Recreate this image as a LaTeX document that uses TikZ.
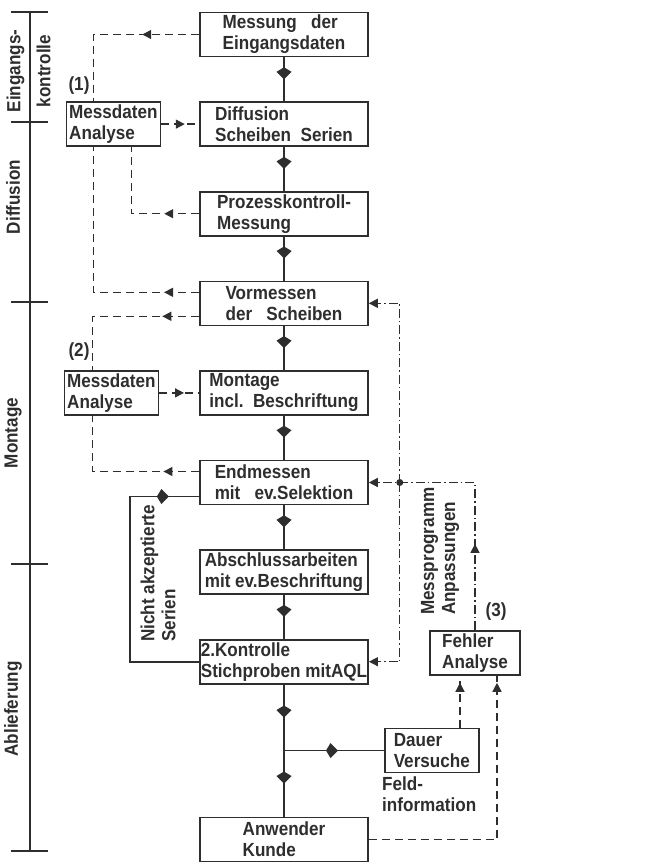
\documentclass[tikz,border=0pt]{standalone}
\usepackage{fontspec}
\setmainfont{Liberation Sans}[FakeStretch=0.9]
\usetikzlibrary{arrows.meta,positioning,decorations.markings,calc}
\definecolor{Ink}{HTML}{2E2E2E}
\tikzset{
 txt/.style={font=\fontsize{19}{21}\selectfont\bfseries,text=Ink},
 stage/.style={txt,draw=Ink,line width=1.6pt,minimum width=168pt,minimum height=44pt,
   align=left,inner xsep=1pt,inner ysep=1pt},
 side/.style={stage,minimum width=94pt},
 lbl/.style={txt,align=left,inner sep=0pt},
 midk/.style={decoration={markings,mark=at position #1 with {\arrow{Kite[length=12pt,width=15pt,inset=4.5pt]}}},postaction={decorate}},
 mid/.style={decoration={markings,mark=at position #1 with {\arrow{Triangle[length=9pt,width=9pt]}}},postaction={decorate}},
 flow/.style={draw=Ink,line width=1.8pt,midk=#1},
 flow/.default=0.5,
 fback/.style={draw=Ink,line width=1.4pt,dash pattern=on 8pt off 5pt,mid=#1},
 fback/.default=0.5,
 fmess/.style={draw=Ink,line width=1.3pt,dash pattern=on 9pt off 3pt on 1.5pt off 3pt},
 tip/.style={-{Triangle[length=9pt,width=9pt]}}
}
\begin{document}
\begin{tikzpicture}[x=1pt,y=-1pt,node distance=44pt]
\useasboundingbox (0,0) rectangle (666,864);
% phases on the left
\draw[Ink,line width=1.4pt] (30,12) -- (30,851);
\foreach \y in {12,122,302,564,851} \draw[Ink,line width=1.4pt] (11,\y) -- (48,\y);
\node[lbl,rotate=90,align=center] (seing) at (28.5,71) {Eingangs-\\[9pt]kontrolle};
\node[lbl,rotate=90] (sdiff) at (13,197) {Diffusion};
\node[lbl,rotate=90] (smont) at (13,433) {Montage};
\node[lbl,rotate=90] (sabl) at (13,709) {Ablieferung};
% main column
\node[stage] (mess) at (284,34.5) {Messung\ \ \ der\\Eingangsdaten};
\node[stage,below=of mess] (diff) {Diffusion\\Scheiben\ \ Serien};
\node[stage,below=of diff] (proz) {Prozesskontroll-\\Messung};
\node[stage,below=of proz] (vorm) {Vormessen\\der\ \ \ Scheiben};
\node[stage,below=of vorm] (mont) {Montage\\incl.\ \ Beschriftung};
\node[stage,below=of mont] (endm) {Endmessen\\mit\ \ \ ev.Selektion};
\node[stage,below=of endm] (absch) {Abschlussarbeiten\\mit ev.Beschriftung};
\node[stage,below=of absch] (kontr) {2.Kontrolle\\Stichproben mitAQL};
\node[stage,below=132pt of kontr] (anw) {Anwender\\Kunde};
% side boxes
\node[side,left=38pt of diff] (ana1) {Messdaten\\Analyse};
\node[side,left=40pt of mont] (ana2) {Messdaten\\Analyse};
\coordinate (br) at ($(kontr.south)!0.5!(anw.north)$);
\node[side,right=100pt of br] (dauer) {Dauer\\Versuche};
\node[side,minimum width=90pt] (fehl) at (475,653) {Fehler\\Analyse};
\node[lbl] (n1) at (79,86) {(1)};
\node[lbl] (n2) at (79,352) {(2)};
\node[lbl] (n3) at (496,612) {(3)};
\node[lbl,rotate=90,anchor=west] (nak) at (158,642) {Nicht akzeptierte\\Serien};
\node[lbl,rotate=90,anchor=west] (anp) at (440,615) {Messprogramm\\Anpassungen};
\node[lbl,anchor=north west] (feld) at (382,777) {Feld-\\information};
% material flow
\foreach \a/\b in {mess/diff,diff/proz,proz/vorm,vorm/mont,mont/endm,endm/absch,absch/kontr}
  \draw[flow] (\a) -- (\b);
\draw[flow] (kontr) -- (br);
\draw[flow] (br) -- (anw);
\draw[flow=0.54] (br) -- (dauer);
\coordinate (nx) at (130,0);
\draw[flow=0.9] (kontr.west) -- (kontr.west -| nx) |- ([yshift=-14pt]endm.west);
% data feedback (1) and (2)
\draw[fback=0.33] (mess.west) -| ([xshift=-20pt]ana1.north);
\draw[fback=0.62] (ana1.east) -- (diff.west);
\draw[fback=0.26] (proz.west) -| ([xshift=18pt]ana1.south);
\draw[fback=0.14] ([yshift=11pt]vorm.west) -| ([xshift=-20pt]ana1.south);
\draw[fback=0.23] ([yshift=-13pt]vorm.west) -| ([xshift=-19pt]ana2.north);
\draw[fback=0.62] (ana2.east) -- (mont.west);
\draw[fback=0.22] ([yshift=11pt]endm.west) -| ([xshift=-19pt]ana2.south);
% failure analysis (3)
\coordinate (fin1) at ([xshift=-15pt]fehl.south);
\coordinate (fin2) at ([xshift=22pt]fehl.south);
\draw[fback=-7pt] (fin1 |- dauer.north) -- (fin1);
\draw[fback=-7pt] (anw.east) -| (fin2);
\coordinate (jn) at ($(endm.east)+(31,0)$);
\draw[fmess,tip,mid=0.34] (fehl.north) |- (endm.east);
\draw[fmess,tip] (jn) |- (vorm.east);
\draw[fmess,tip] (jn) |- (kontr.east);
\fill[Ink] (jn) circle (3.5pt);
\end{tikzpicture}
\end{document}
